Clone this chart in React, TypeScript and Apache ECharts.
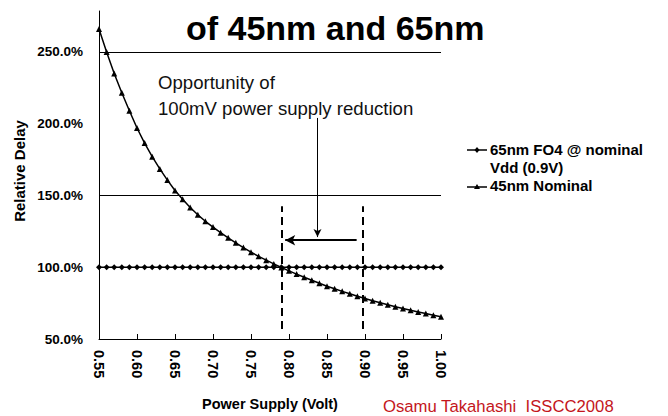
import React, { useEffect, useRef } from "react";
import * as echarts from "echarts";

const voltages = [
  0.55, 0.56, 0.57, 0.58, 0.59, 0.6, 0.61, 0.62, 0.63, 0.64, 0.65, 0.66, 0.67, 0.68, 0.69, 0.7,
  0.71, 0.72, 0.73, 0.74, 0.75, 0.76, 0.77, 0.78, 0.79, 0.8, 0.81, 0.82, 0.83, 0.84, 0.85, 0.86,
  0.87, 0.88, 0.89, 0.9, 0.91, 0.92, 0.93, 0.94, 0.95, 0.96, 0.97, 0.98, 0.99, 1.0,
];
const delay65 = [
  100, 100, 100, 100, 100, 100, 100, 100, 100, 100, 100, 100, 100, 100, 100, 100, 100, 100, 100, 100,
  100, 100, 100, 100, 100, 100, 100, 100, 100, 100, 100, 100, 100, 100, 100, 100, 100, 100, 100, 100,
  100, 100, 100, 100, 100, 100,
];
const delay45 = [
  266, 250, 235, 221.5, 209, 197, 186.5, 177, 168.5, 160.7, 153.5, 147.3, 141.6, 136.5, 132, 128,
  124.1, 120.5, 117, 113.7, 110.5, 107.6, 104.9, 102.3, 99.8, 97.5, 95.2, 93.0, 90.9, 88.8, 86.8,
  85.0, 83.2, 81.5, 79.8, 78.2, 76.7, 75.3, 73.9, 72.5, 71.2, 70.0, 68.8, 67.7, 66.6, 65.5,
];
const seriesNames = ["65nm FO4 @ nominal\nVdd (0.9V)", "45nm Nominal"];
const gridValues = [150, 250];
const dashedX = [0.791, 0.897];
const dashedY = [57, 142.5];
const hArrow = { fromX: 0.889, toX: 0.795, y: 118.8 };
const vArrow = { x: 0.8375, fromY: 204, toY: 121 };

const FONT = "'Liberation Sans', Arial, sans-serif";

export default function App() {
  const ref = useRef<HTMLDivElement>(null);
  useEffect(() => {
    const chart = echarts.init(ref.current!, null, { renderer: "svg" });
    const d65 = voltages.map((v, i) => [v, delay65[i]]);
    const d45 = voltages.map((v, i) => [v, delay45[i]]);
    chart.setOption({
      animation: false,
      backgroundColor: "#ffffff",
      grid: { left: 99, right: 227, top: 11, bottom: 76 },
      xAxis: {
        type: "value",
        min: 0.55,
        max: 1.0,
        interval: 0.05,
        axisLine: { show: true, lineStyle: { color: "#000", width: 1 } },
        axisTick: { show: true, inside: true, length: 5, lineStyle: { color: "#000" } },
        splitLine: { show: false },
        axisLabel: {
          rotate: -90,
          margin: 11,
          color: "#000",
          fontSize: 14.5,
          fontWeight: "bold",
          fontFamily: FONT,
          formatter: (v: number) => v.toFixed(2),
        },
        name: "Power Supply (Volt)",
        nameLocation: "middle",
        nameGap: 57,
        nameTextStyle: { color: "#000", fontSize: 14.5, fontWeight: "bold", fontFamily: FONT },
      },
      yAxis: {
        type: "value",
        min: 50,
        max: 278.5,
        interval: 50,
        axisLine: { show: true, lineStyle: { color: "#000", width: 1 } },
        axisTick: { show: false },
        splitLine: { show: false },
        axisLabel: {
          showMaxLabel: false,
          margin: 16,
          color: "#000",
          fontSize: 13.5,
          fontWeight: "bold",
          fontFamily: FONT,
          formatter: (v: number) => v.toFixed(1) + "%",
        },
      },
      series: [
        {
          name: seriesNames[0],
          type: "line",
          data: d65,
          symbol: "diamond",
          symbolSize: 6,
          itemStyle: { color: "#000" },
          lineStyle: { color: "#000", width: 1.5 },
          z: 3,
          markLine: {
            silent: true,
            symbol: ["none", "none"],
            label: { show: false },
            lineStyle: { color: "#000", width: 1, type: "solid" },
            data: gridValues.map((g) => ({ yAxis: g })),
          },
        },
        {
          name: seriesNames[1],
          type: "line",
          data: d45,
          symbol: "triangle",
          symbolSize: 6,
          itemStyle: { color: "#000" },
          lineStyle: { color: "#000", width: 1.5 },
          z: 4,
          markLine: {
            silent: true,
            label: { show: false },
            data: [
              ...dashedX.map((x) => [
                {
                  coord: [x, dashedY[0]],
                  symbol: "none",
                  lineStyle: { color: "#000", width: 2, type: [8, 5] },
                },
                { coord: [x, dashedY[1]], symbol: "none" },
              ]),
              [
                {
                  coord: [hArrow.fromX, hArrow.y],
                  symbol: "none",
                  lineStyle: { color: "#000", width: 2, type: "solid" },
                },
                { coord: [hArrow.toX, hArrow.y], symbol: "arrow", symbolSize: [8, 10] },
              ],
              [
                {
                  coord: [vArrow.x, vArrow.fromY],
                  symbol: "none",
                  lineStyle: { color: "#000", width: 1, type: "solid" },
                },
                { coord: [vArrow.x, vArrow.toY], symbol: "arrow", symbolSize: [6, 8] },
              ],
            ],
          },
        },
      ],
      graphic: [
        {
          type: "text",
          left: 186,
          top: 11,
          style: {
            text: "of 45nm and 65nm",
            fontSize: 34,
            fontWeight: "bold",
            fontFamily: FONT,
            fill: "#000",
          },
        },
        {
          type: "text",
          left: 158,
          top: 69,
          style: {
            text: "Opportunity of\n100mV power supply reduction",
            fontSize: 18.6,
            lineHeight: 26,
            fontFamily: FONT,
            fill: "#111",
          },
        },
        {
          type: "text",
          x: 19,
          y: 171,
          rotation: Math.PI / 2,
          style: {
            text: "Relative Delay",
            fontSize: 15,
            fontWeight: "bold",
            fontFamily: FONT,
            fill: "#000",
            align: "center",
            verticalAlign: "middle",
          },
        },
        {
          type: "text",
          left: 383,
          top: 398,
          style: {
            text: "Osamu Takahashi  ISSCC2008",
            fontSize: 16.7,
            fontFamily: FONT,
            fill: "#c4161c",
          },
        },
        // legend entry 1
        {
          type: "line",
          shape: { x1: 467, y1: 150, x2: 487, y2: 150 },
          style: { stroke: "#000", lineWidth: 1.5 },
        },
        {
          type: "polygon",
          shape: { points: [[477, 147], [479.5, 150], [477, 153], [474.5, 150]] },
          style: { fill: "#000" },
        },
        {
          type: "text",
          left: 490,
          top: 141,
          style: {
            text: seriesNames[0],
            fontSize: 15,
            lineHeight: 17.5,
            fontWeight: "bold",
            fontFamily: FONT,
            fill: "#000",
          },
        },
        // legend entry 2
        {
          type: "line",
          shape: { x1: 467, y1: 187, x2: 487, y2: 187 },
          style: { stroke: "#000", lineWidth: 1.5 },
        },
        {
          type: "polygon",
          shape: { points: [[477, 184], [480, 189], [474, 189]] },
          style: { fill: "#000" },
        },
        {
          type: "text",
          left: 490,
          top: 178,
          style: {
            text: seriesNames[1],
            fontSize: 15,
            fontWeight: "bold",
            fontFamily: FONT,
            fill: "#000",
          },
        },
      ],
    });
    return () => chart.dispose();
  }, []);
  return (
    <div
      ref={ref}
      style={{ position: "fixed", left: 0, top: 0, width: 668, height: 416, background: "#fff" }}
    />
  );
}
